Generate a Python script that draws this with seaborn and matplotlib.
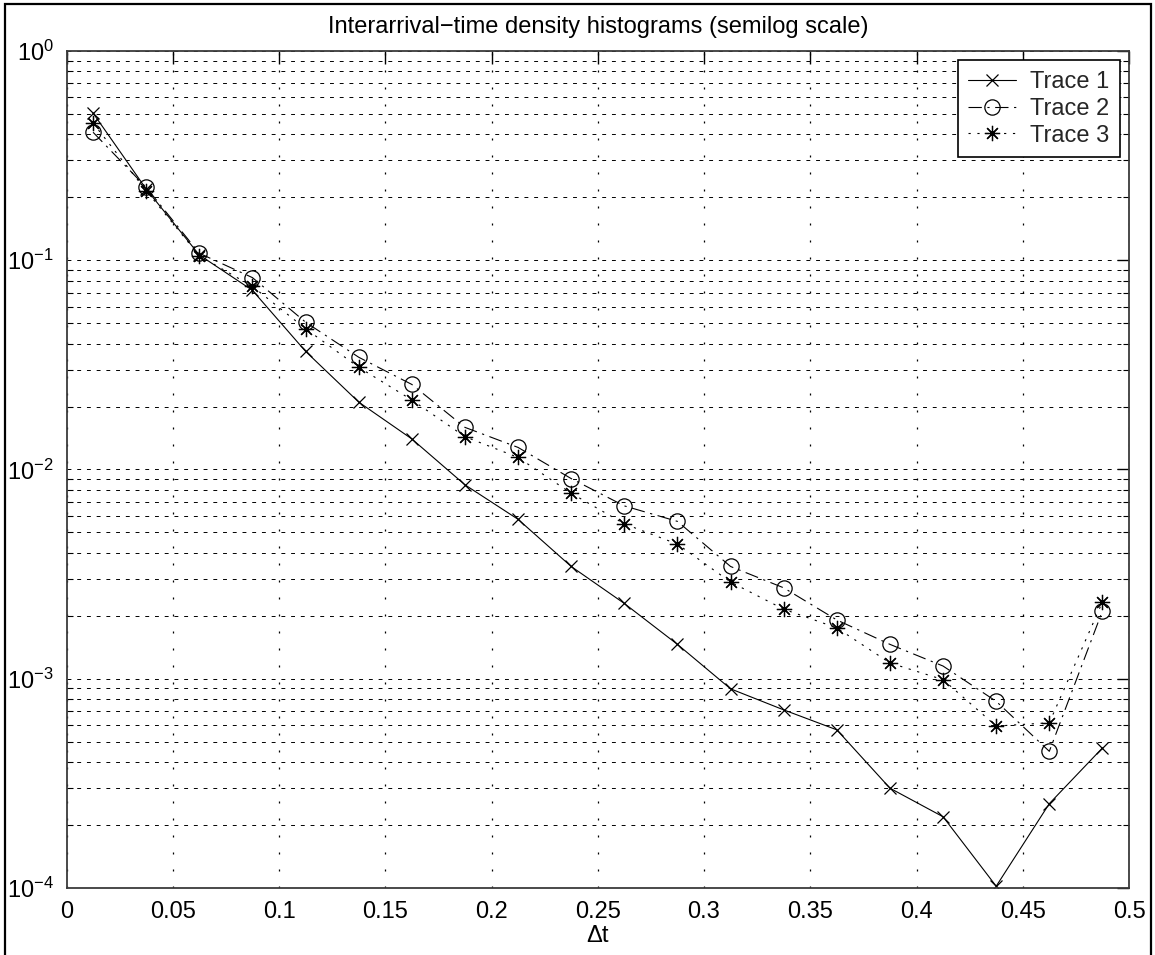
import numpy as np
import pandas as pd
import matplotlib
matplotlib.use("Agg")
import matplotlib.pyplot as plt
import matplotlib.ticker as mticker
import matplotlib.patches as mpatches
import seaborn as sns

# ---- data ----
dt = [0.0125, 0.0375, 0.0625, 0.0875, 0.1125, 0.1375, 0.1625, 0.1875, 0.2125, 0.2375,
      0.2625, 0.2875, 0.3125, 0.3375, 0.3625, 0.3875, 0.4125, 0.4375, 0.4625, 0.4875]
trace1 = [0.505, 0.219, 0.106, 0.0718, 0.0367, 0.0210, 0.0140, 0.00845, 0.00578, 0.00344,
          0.00229, 0.00146, 0.000895, 0.00071, 0.00057, 0.000300, 0.000219, 0.000102, 0.000253, 0.000467]
trace2 = [0.409, 0.223, 0.108, 0.0826, 0.0506, 0.0344, 0.0255, 0.0159, 0.01275, 0.00905,
          0.0067, 0.00565, 0.00344, 0.00272, 0.00191, 0.00146, 0.00115, 0.00078, 0.00045, 0.00211]
trace3 = [0.452, 0.215, 0.105, 0.075, 0.0471, 0.0308, 0.0215, 0.01435, 0.01142, 0.0077,
          0.0055, 0.0044, 0.0029, 0.00215, 0.00175, 0.00119, 0.00099, 0.000594, 0.000616, 0.00233]
series_names = ["Trace 1", "Trace 2", "Trace 3"]
xticks = [0, 0.05, 0.1, 0.15, 0.2, 0.25, 0.3, 0.35, 0.4, 0.45, 0.5]
xtick_labels = ["0", "0.05", "0.1", "0.15", "0.2", "0.25", "0.3", "0.35", "0.4", "0.45", "0.5"]
yticks = [1e-4, 1e-3, 1e-2, 1e-1, 1e0]
ytick_labels = ["$10^{-4}$", "$10^{-3}$", "$10^{-2}$", "$10^{-1}$", "$10^{0}$"]
title = "Interarrival\u2212time density histograms (semilog scale)"
xlabel = "\u0394t"

sns.set_theme(style="white")
plt.rcParams["font.family"] = ["Liberation Sans", "DejaVu Sans"]
plt.rcParams["mathtext.default"] = "regular"
FS = 17

fig = plt.figure(figsize=(11.55, 9.55), dpi=100)
ax = fig.add_axes([66.5 / 1155, 1 - 888 / 955, (1129 - 66.5) / 1155, (888 - 51) / 955])

df = pd.DataFrame({"dt": dt, "Trace 1": trace1, "Trace 2": trace2, "Trace 3": trace3})

styles = {
    "Trace 1": dict(marker="x", linestyle="-", ms=8),
    "Trace 2": dict(marker="o", linestyle=(0, (12, 5, 2, 5)), ms=11),
    "Trace 3": dict(marker=(8, 2, 0), linestyle=(0, (2, 6)), ms=11),
}
for name in series_names:
    st = styles[name]
    sns.lineplot(data=df, x="dt", y=name, ax=ax, color="black", lw=0.8,
                 marker=st["marker"], linestyle=st["linestyle"], ms=st["ms"],
                 mfc="none", mec="black", mew=0.9, label=name, errorbar=None)

ax.set_yscale("log")
ax.set_xlim(0, 0.5)
ax.set_ylim(1e-4, 1)

ax.set_xticks(xticks)
ax.xaxis.set_major_formatter(mticker.FixedFormatter(xtick_labels))
ax.set_yticks(yticks)
ax.yaxis.set_major_formatter(mticker.FixedFormatter(ytick_labels))
ax.yaxis.set_minor_locator(mticker.LogLocator(base=10, subs=[2, 3, 4, 5, 6, 7, 8, 9], numticks=20))
ax.yaxis.set_minor_formatter(mticker.NullFormatter())

ax.tick_params(axis="both", which="major", direction="in", length=9, width=1.0,
               color="black", top=True, right=True, labelsize=FS, labelcolor="black")
ax.tick_params(axis="y", which="major", pad=9)
ax.tick_params(axis="x", which="major", pad=9)
ax.tick_params(axis="y", which="minor", direction="in", length=4, width=0.8,
               color="black", left=True, right=True)

ax.grid(True, which="major", axis="y", color="black", linestyle=(0, (4, 6)), linewidth=0.7)
ax.grid(True, which="minor", axis="y", color="black", linestyle=(0, (4, 6)), linewidth=0.7)
ax.grid(True, which="major", axis="x", color="black", linestyle=(0, (1.6, 12)), linewidth=0.9)
ax.set_axisbelow(True)

for sp in ax.spines.values():
    sp.set_color("#3a3a3a")
    sp.set_linewidth(1.3)
    sp.set_visible(True)

ax.set_title(title, fontsize=FS, pad=13, color="black")
ax.set_xlabel(xlabel, fontsize=FS, labelpad=2, color="black")
ax.set_ylabel("")

handles, labels = ax.get_legend_handles_labels()
leg = ax.legend(handles, labels, loc="upper right", fontsize=FS, frameon=True,
                fancybox=False, shadow=False, framealpha=1, edgecolor="black",
                borderaxespad=0.4, labelspacing=0.2, handlelength=2.0,
                handletextpad=0.6, borderpad=0.45)
leg.get_frame().set_linewidth(1.2)

fig.patches.append(mpatches.Rectangle((5 / 1155, -0.05), (1151 - 5) / 1155, 1.05 - 4 / 955,
                                      transform=fig.transFigure, fill=False,
                                      edgecolor="black", linewidth=1.6))

fig.savefig("out.png", dpi=100, facecolor="white")
